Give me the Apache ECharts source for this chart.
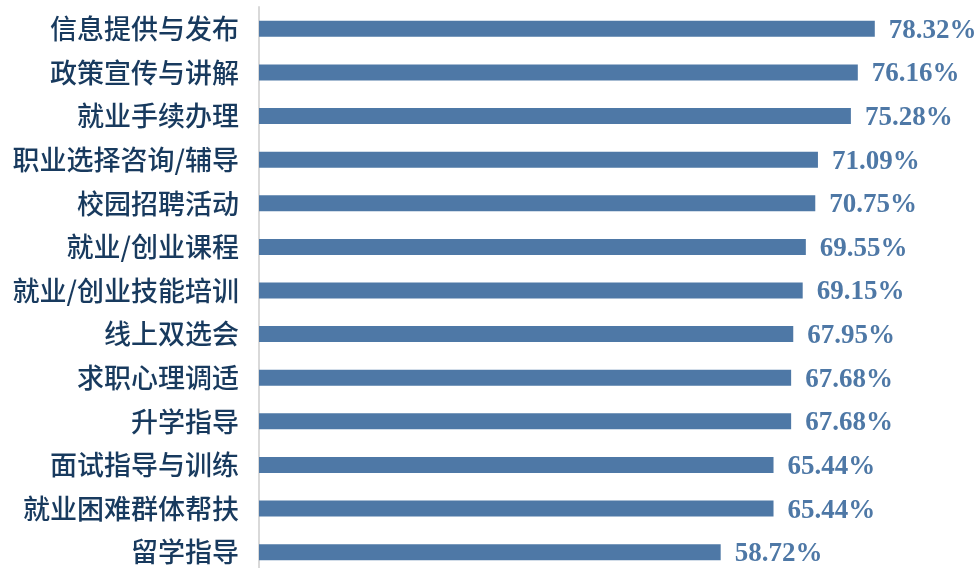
<!DOCTYPE html>
<html><head><meta charset="utf-8">
<script src="https://cdn.jsdelivr.net/npm/echarts@6/dist/echarts.min.js"></script>
<style>html,body{margin:0;padding:0;background:#fff}#c{width:978px;height:568px}</style>
</head><body><div id="c"></div>
<script>
const categories = ["信息提供与发布","政策宣传与讲解","就业手续办理","职业选择咨询/辅导","校园招聘活动","就业/创业课程","就业/创业技能培训","线上双选会","求职心理调适","升学指导","面试指导与训练","就业困难群体帮扶","留学指导"];
const values = [78.32,76.16,75.28,71.09,70.75,69.55,69.15,67.95,67.68,67.68,65.44,65.44,58.72];

const chart = echarts.init(document.getElementById('c'));
chart.setOption({
  animation:false,
  grid:{left:259, top:7, width:629, height:567, outerBoundsMode:'none', containLabel:false},
  xAxis:{type:'value', min:0, max:80, show:false},
  yAxis:{type:'category', data:categories, inverse:true,
    axisLine:{show:true, lineStyle:{color:'#d9d9d9', width:2}},
    axisTick:{show:false},
    axisLabel:{margin:20, fontSize:27, fontWeight:500, color:'#183a5e', fontFamily:'"Noto Sans CJK SC", sans-serif'}
  },
  series:[{type:'bar', data:values, barWidth:16,
    itemStyle:{color:'#4e78a6'},
    label:{show:true, position:'right', distance:14, offset:[0,2], formatter:p=>p.value.toFixed(2)+'%',
      fontFamily:'"Liberation Serif", "Times New Roman", serif', fontWeight:'bold', fontSize:27, color:'#4e78a6'}
  }]
});
</script></body></html>
